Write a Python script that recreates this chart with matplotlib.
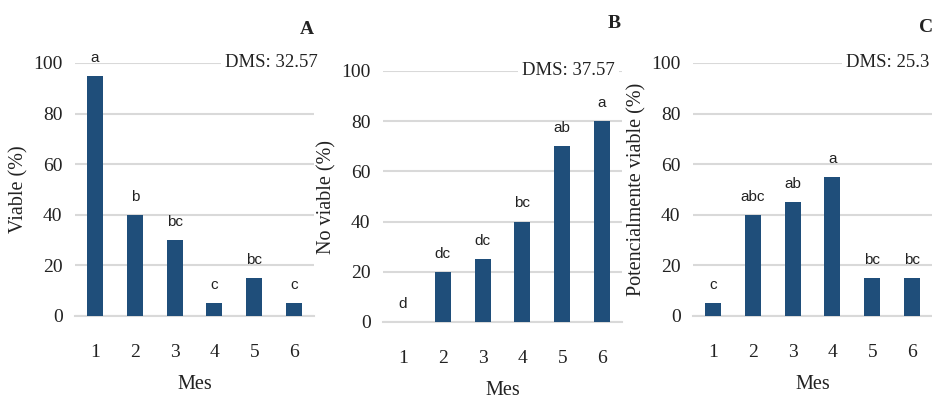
import matplotlib
matplotlib.use('Agg')

import matplotlib.pyplot as plt

# ─── Data ───
months = [1, 2, 3, 4, 5, 6]

viable = [95, 40, 30, 5, 15, 5]
viable_letters = ['a', 'b', 'bc', 'c', 'bc', 'c']

no_viable = [0, 20, 25, 40, 70, 80]
no_viable_letters = ['d', 'dc', 'dc', 'bc', 'ab', 'a']

pot_viable = [5, 40, 45, 55, 15, 15]
pot_viable_letters = ['c', 'abc', 'ab', 'a', 'bc', 'bc']

panel_names = ['A', 'B', 'C']
y_labels = ['Viable (%)', 'No viable (%)', 'Potencialmente viable (%)']
dms_labels = ['DMS: 32.57', 'DMS: 37.57', 'DMS: 25.3']
y_ticks = [0, 20, 40, 60, 80, 100]

BAR_COLOR = '#1F4E7A'
GRID_COLOR = '#D9D9D9'
SERIF = 'Liberation Serif'
SANS = 'Liberation Sans'

W, H = 932, 399
fig = plt.figure(figsize=(W / 100, H / 100), dpi=100)

# axes boxes in pixels: left, top (100 line), bottom (0 line)
boxes = [(75, 63, 316), (383, 71, 322), (693, 63, 316)]
dms_x = [1.017, 0.97, 0.99]
panel_pos = [(307, 29), (614, 23), (926, 28)]

series = [viable, no_viable, pot_viable]
letters = [viable_letters, no_viable_letters, pot_viable_letters]

for i in range(3):
    left, top, bottom = boxes[i]
    ax = fig.add_axes([left / W, 1 - bottom / H, 239 / W, (bottom - top) / H])

    ax.bar(months, series[i], width=0.4, color=BAR_COLOR, zorder=3)

    for m, v, lab in zip(months, series[i], letters[i]):
        ax.annotate(lab, (m, v), xytext=(0, 8), textcoords='offset points',
                    ha='center', va='bottom', fontsize=11, family=SANS,
                    color='#222222')

    ax.set_xlim(0.5, 6.5)
    ax.set_ylim(0, 100)
    ax.set_yticks(y_ticks)
    ax.set_xticks(months)
    ax.yaxis.grid(True, color=GRID_COLOR, linewidth=1.5, zorder=0)
    ax.set_axisbelow(True)
    for s in ['top', 'right', 'left']:
        ax.spines[s].set_visible(False)
    ax.spines['bottom'].set_color(GRID_COLOR)
    ax.spines['bottom'].set_linewidth(1.5)
    ax.tick_params(axis='both', length=0, labelsize=14)
    ax.tick_params(axis='x', pad=20)
    ax.tick_params(axis='y', pad=9)
    for t in ax.get_xticklabels() + ax.get_yticklabels():
        t.set_family(SERIF)
        t.set_color('#222222')

    ax.set_xlabel('Mes', fontsize=14.5, family=SERIF, labelpad=10, color='#222222')
    ax.set_ylabel(y_labels[i], fontsize=14.5, family=SERIF, labelpad=3, color='#222222')

    ax.text(dms_x[i], 100, dms_labels[i], transform=ax.get_yaxis_transform(),
            ha='right', va='center', fontsize=13.5, family=SERIF, color='#222222',
            bbox=dict(fc='white', ec='none', pad=3), zorder=4)

    px, py = panel_pos[i]
    fig.text(px / W, 1 - py / H, panel_names[i], ha='center', va='center',
             fontsize=14, fontweight='bold', family=SERIF, color='#222222')

fig.savefig('out.png', dpi=100)
